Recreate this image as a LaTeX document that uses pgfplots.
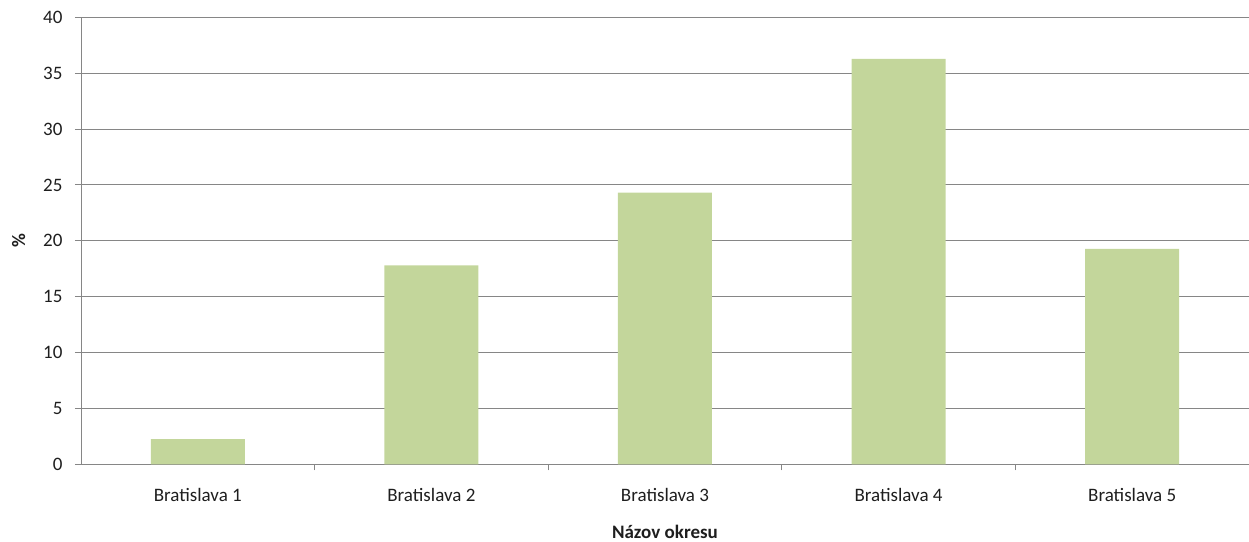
\documentclass[border=0pt]{standalone}
\usepackage{fontspec}
\setmainfont{Carlito}
\usepackage{pgfplots}
\pgfplotsset{compat=1.18}
\definecolor{bargreen}{RGB}{195,214,155}
\definecolor{gridgray}{RGB}{134,134,134}
\definecolor{txt}{RGB}{30,30,30}
\begin{document}
\begin{tikzpicture}
\useasboundingbox (-81bp,-77.7bp) rectangle (1168bp,464.3bp);
\begin{axis}[
  at={(0,0)}, anchor=south west,
  scale only axis,
  width=1168bp, height=447bp,
  xmin=-0.5, xmax=4.5,
  ymin=0, ymax=40,
  ytick={0,5,...,40},
  xtick={0,1,2,3,4},
  xticklabels={Bratislava 1,Bratislava 2,Bratislava 3,Bratislava 4,Bratislava 5},
  minor xtick={0.5,1.5,2.5,3.5},
  axis x line*=bottom, axis y line*=left,
  axis line style={gridgray, line width=1pt, -},
  ymajorgrids, major grid style={gridgray, line width=1pt},
  major tick length=6bp, minor tick length=6bp,
  tick align=outside,
  x tick style={draw=none},
  minor x tick style={draw=gridgray, line width=1pt},
  y tick style={gridgray, line width=1pt},
  /pgf/number format/assume math mode=true,
  tick label style={font=\fontsize{19bp}{22bp}\selectfont, text=txt},
  yticklabel style={xshift=-9bp},
  xticklabel style={yshift=-14bp},
  xlabel={\textbf{Názov okresu}},
  ylabel={\textbf{\%}},
  label style={font=\fontsize{19bp}{22bp}\selectfont, text=txt},
  xlabel style={yshift=-17bp},
  ylabel style={yshift=11bp},
]
\addplot[ybar, bar width=94bp, fill=bargreen, draw=none] coordinates {
  (0,2.26) (1,17.81) (2,24.30) (3,36.27) (4,19.27)
};
\end{axis}
\end{tikzpicture}
\end{document}
